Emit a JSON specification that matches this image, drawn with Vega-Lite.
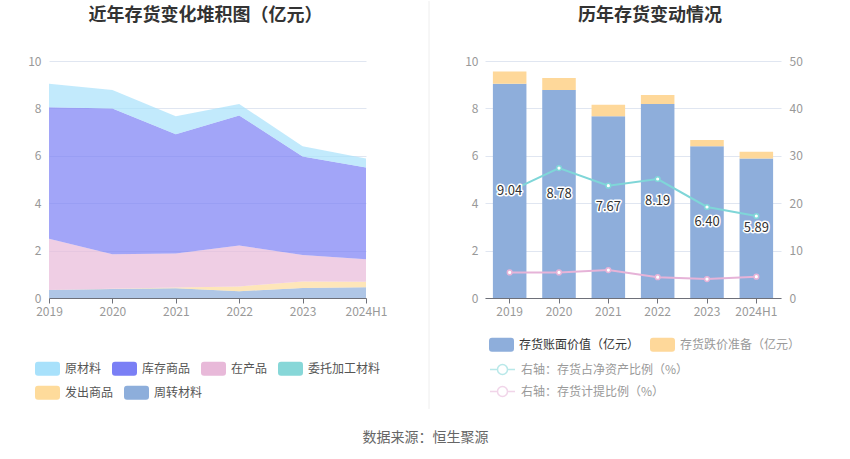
{
  "$schema": "https://vega.github.io/schema/vega-lite/v6.json",
  "autosize": {"type": "pad"},
  "padding": {"left": 27, "top": 0, "right": 0, "bottom": 0},
  "background": "white",
  "config": {
    "font": "Noto Sans CJK SC",
    "view": {"stroke": null},
    "axis": {"labelFont": "Noto Sans CJK SC"},
    "legend": {"labelFont": "Noto Sans CJK SC"}
  },
  "bounds": "flush",
  "spacing": 56,
  "resolve": {"scale": {"x": "independent", "y": "independent", "color": "independent", "stroke": "independent", "fill": "independent"}},
  "hconcat": [
    {
      "width": 317,
      "height": 237,
      "title": {"text": "近年存货变化堆积图（亿元）", "fontSize": 18, "fontWeight": "bold", "color": "#333333", "anchor": "middle", "dx": -2, "offset": 30},
      "resolve": {"scale": {"fill": "independent"}, "legend": {"fill": "independent"}},
      "layer": [
        {
          "data": {"values": [
            {"year": "2019", "series": "周转材料", "value": 0.34, "k": 1},
            {"year": "2020", "series": "周转材料", "value": 0.38, "k": 1},
            {"year": "2021", "series": "周转材料", "value": 0.41, "k": 1},
            {"year": "2022", "series": "周转材料", "value": 0.29, "k": 1},
            {"year": "2023", "series": "周转材料", "value": 0.42, "k": 1},
            {"year": "2024H1", "series": "周转材料", "value": 0.45, "k": 1},
            {"year": "2019", "series": "发出商品", "value": 0.0, "k": 2},
            {"year": "2020", "series": "发出商品", "value": 0.01, "k": 2},
            {"year": "2021", "series": "发出商品", "value": 0.03, "k": 2},
            {"year": "2022", "series": "发出商品", "value": 0.2, "k": 2},
            {"year": "2023", "series": "发出商品", "value": 0.28, "k": 2},
            {"year": "2024H1", "series": "发出商品", "value": 0.24, "k": 2},
            {"year": "2019", "series": "在产品", "value": 2.16, "k": 3},
            {"year": "2020", "series": "在产品", "value": 1.46, "k": 3},
            {"year": "2021", "series": "在产品", "value": 1.44, "k": 3},
            {"year": "2022", "series": "在产品", "value": 1.73, "k": 3},
            {"year": "2023", "series": "在产品", "value": 1.11, "k": 3},
            {"year": "2024H1", "series": "在产品", "value": 0.94, "k": 3},
            {"year": "2019", "series": "委托加工材料", "value": 0.0, "k": 4},
            {"year": "2020", "series": "委托加工材料", "value": 0.0, "k": 4},
            {"year": "2021", "series": "委托加工材料", "value": 0.0, "k": 4},
            {"year": "2022", "series": "委托加工材料", "value": 0.0, "k": 4},
            {"year": "2023", "series": "委托加工材料", "value": 0.0, "k": 4},
            {"year": "2024H1", "series": "委托加工材料", "value": 0.0, "k": 4},
            {"year": "2019", "series": "库存商品", "value": 5.55, "k": 5},
            {"year": "2020", "series": "库存商品", "value": 6.15, "k": 5},
            {"year": "2021", "series": "库存商品", "value": 5.03, "k": 5},
            {"year": "2022", "series": "库存商品", "value": 5.48, "k": 5},
            {"year": "2023", "series": "库存商品", "value": 4.16, "k": 5},
            {"year": "2024H1", "series": "库存商品", "value": 3.88, "k": 5},
            {"year": "2019", "series": "原材料", "value": 0.99, "k": 6},
            {"year": "2020", "series": "原材料", "value": 0.78, "k": 6},
            {"year": "2021", "series": "原材料", "value": 0.76, "k": 6},
            {"year": "2022", "series": "原材料", "value": 0.49, "k": 6},
            {"year": "2023", "series": "原材料", "value": 0.43, "k": 6},
            {"year": "2024H1", "series": "原材料", "value": 0.38, "k": 6}
          ]},
          "mark": {"type": "area", "opacity": 0.7},
          "encoding": {
            "x": {"field": "year", "type": "ordinal", "sort": null, "scale": {"type": "point", "padding": 0},
              "axis": {"title": null, "labelAngle": 0, "labelColor": "#999999", "labelFontSize": 12, "labelPadding": 3, "labelFlush": false, "labelOverlap": false, "domainColor": "#6e7079", "tickColor": "#6e7079", "tickSize": 5, "grid": false}},
            "y": {"field": "value", "type": "quantitative", "stack": "zero", "scale": {"domain": [0, 10]},
              "axis": {"title": null, "values": [0, 2, 4, 6, 8, 10], "labelColor": "#999999", "labelFontSize": 12, "labelPadding": 8, "domain": false, "ticks": false, "grid": true, "gridColor": "#e0e6f1"}},
            "fill": {"field": "series", "type": "nominal",
              "scale": {"domain": ["原材料", "库存商品", "在产品", "委托加工材料", "发出商品", "周转材料"], "range": ["#a8e1fb", "#7a7ff5", "#e8b9d9", "#87d7d8", "#fedb9b", "#8daedb"]},
              "legend": {"title": null, "orient": "none", "legendX": -14, "legendY": 295, "direction": "horizontal", "columns": 4,
                "values": ["原材料", "库存商品", "在产品", "委托加工材料"],
                "symbolType": "M-0.76,-0.56L0.76,-0.56Q1,-0.56,1,-0.32L1,0.32Q1,0.56,0.76,0.56L-0.76,0.56Q-1,0.56,-1,0.32L-1,-0.32Q-1,-0.56,-0.76,-0.56Z",
                "symbolSize": 625, "symbolStrokeWidth": 0, "symbolOpacity": 1, "labelFontSize": 12, "labelColor": "#555555", "labelOffset": 5, "columnPadding": 10}},
            "order": {"field": "k", "type": "quantitative"}
          }
        },
        {
          "data": {"values": [
            {"year": "2019", "leg": "发出商品", "v": 0},
            {"year": "2024H1", "leg": "发出商品", "v": 0},
            {"year": "2019", "leg": "周转材料", "v": 0},
            {"year": "2024H1", "leg": "周转材料", "v": 0}
          ]},
          "mark": {"type": "area", "opacity": 0.7},
          "encoding": {
            "x": {"field": "year", "type": "ordinal", "sort": null},
            "y": {"field": "v", "type": "quantitative", "stack": null},
            "fill": {"field": "leg", "type": "nominal",
              "scale": {"domain": ["发出商品", "周转材料"], "range": ["#fedb9b", "#8daedb"]},
              "legend": {"title": null, "orient": "none", "legendX": -14, "legendY": 319, "direction": "horizontal", "columns": 2,
                "symbolType": "M-0.76,-0.56L0.76,-0.56Q1,-0.56,1,-0.32L1,0.32Q1,0.56,0.76,0.56L-0.76,0.56Q-1,0.56,-1,0.32L-1,-0.32Q-1,-0.56,-0.76,-0.56Z",
                "symbolSize": 625, "symbolStrokeWidth": 0, "symbolOpacity": 1, "labelFontSize": 12, "labelColor": "#555555", "labelOffset": 5, "columnPadding": 10}}
          }
        }
      ]
    },
    {
      "width": 7,
      "height": 237,
      "title": {"text": "数据来源：恒生聚源", "orient": "bottom", "anchor": "middle", "fontSize": 14, "fontWeight": "normal", "color": "#666666", "offset": 22},
      "data": {"values": [{"p": 1, "top": 12.53, "bottom": -4.68}]},
      "mark": {"type": "rule", "color": "#eeeeee", "strokeWidth": 1, "clip": false},
      "encoding": {
        "x": {"field": "p", "type": "quantitative", "scale": {"domain": [0, 1]}, "axis": null},
        "y": {"field": "top", "type": "quantitative", "scale": {"domain": [0, 10]}, "axis": null},
        "y2": {"field": "bottom"}
      }
    },
    {
      "width": 296,
      "height": 237,
      "title": {"text": "历年存货变动情况", "fontSize": 18, "fontWeight": "bold", "color": "#333333", "anchor": "middle", "dx": 17, "offset": 30},
      "data": {"values": [
        {"year": "2019", "book": 9.04, "prov": 0.52, "rn": 22.5, "rp": 5.4},
        {"year": "2020", "book": 8.78, "prov": 0.5, "rn": 27.4, "rp": 5.4},
        {"year": "2021", "book": 7.67, "prov": 0.48, "rn": 23.7, "rp": 5.9},
        {"year": "2022", "book": 8.19, "prov": 0.38, "rn": 25.1, "rp": 4.4},
        {"year": "2023", "book": 6.4, "prov": 0.27, "rn": 19.2, "rp": 4.0},
        {"year": "2024H1", "book": 5.89, "prov": 0.28, "rn": 17.3, "rp": 4.5}
      ]},
      "resolve": {"scale": {"y": "independent"}},
      "layer": [
        {
          "transform": [{"fold": ["book", "prov"], "as": ["item", "amount"]}],
          "mark": {"type": "bar"},
          "encoding": {
            "x": {"field": "year", "type": "ordinal", "sort": null, "scale": {"paddingInner": 0.32, "paddingOuter": 0.16},
              "axis": {"title": null, "labelAngle": 0, "labelColor": "#999999", "labelFontSize": 12, "labelPadding": 3, "domainColor": "#6e7079", "tickColor": "#6e7079", "tickSize": 5, "grid": false}},
            "y": {"field": "amount", "type": "quantitative", "stack": "zero", "scale": {"domain": [0, 10]},
              "axis": {"orient": "left", "title": null, "values": [0, 2, 4, 6, 8, 10], "labelColor": "#999999", "labelFontSize": 12, "labelPadding": 7, "domain": false, "ticks": false, "grid": true, "gridColor": "#e0e6f1"}},
            "color": {"field": "item", "type": "nominal",
              "scale": {"domain": ["book", "prov"], "range": ["#8eaedb", "#fed89a"]},
              "legend": {"title": null, "orient": "none", "legendX": 4, "legendY": 271, "direction": "horizontal", "columns": 2,
                "labelExpr": "datum.value === 'book' ? '存货账面价值（亿元）' : '存货跌价准备（亿元）'",
                "symbolType": "M-0.76,-0.56L0.76,-0.56Q1,-0.56,1,-0.32L1,0.32Q1,0.56,0.76,0.56L-0.76,0.56Q-1,0.56,-1,0.32L-1,-0.32Q-1,-0.56,-0.76,-0.56Z",
                "symbolSize": 625, "symbolStrokeWidth": 0, "labelFontSize": 12, "labelColor": "#333333", "labelOffset": 5, "columnPadding": 10, "labelLimit": 300,
                "encode": {
                  "symbols": {"update": {"fill": {"signal": "datum.value === 'prov' ? '#fde9c9' : '#8eaedb'"}}},
                  "labels": {"update": {"fill": {"signal": "datum.value === 'prov' ? '#999999' : '#333333'"}}}
                }}},
            "order": {"field": "item", "type": "ordinal"}
          }
        },
        {
          "transform": [{"fold": ["rn", "rp"], "as": ["rk", "rv"]}],
          "encoding": {
            "x": {"field": "year", "type": "ordinal", "sort": null},
            "y": {"field": "rv", "type": "quantitative", "scale": {"domain": [0, 50]},
              "axis": {"orient": "right", "title": null, "values": [0, 10, 20, 30, 40, 50], "labelColor": "#999999", "labelFontSize": 12, "labelPadding": 8, "domain": false, "ticks": false, "grid": false}},
            "stroke": {"field": "rk", "type": "nominal",
              "scale": {"domain": ["rn", "rp"], "range": ["#7fd6d8", "#e6b3d8"]},
              "legend": {"title": null, "orient": "none", "legendX": 4, "legendY": 295, "direction": "vertical",
                "labelExpr": "datum.value === 'rn' ? '右轴：存货占净资产比例（%）' : '右轴：存货计提比例（%）'",
                "symbolType": "M-1,0L-0.4,0M0.4,0L1,0M0.4,0A0.4,0.4,0,1,1,-0.4,0A0.4,0.4,0,1,1,0.4,0Z",
                "symbolSize": 625, "symbolStrokeWidth": 1.5, "symbolFillColor": "white", "symbolOpacity": 0.55,
                "labelFontSize": 12, "labelColor": "#999999", "labelOffset": 5, "rowPadding": -1, "labelLimit": 300}}
          },
          "layer": [
            {"mark": {"type": "line", "strokeWidth": 2}},
            {"mark": {"type": "point", "shape": "circle", "filled": true, "fill": "white", "size": 22, "strokeWidth": 1.5, "opacity": 1}}
          ]
        },
        {
          "encoding": {
            "x": {"field": "year", "type": "ordinal", "sort": null},
            "y": {"field": "book", "type": "quantitative", "scale": {"domain": [0, 20]}, "axis": null},
            "text": {"field": "book", "type": "quantitative", "format": ".2f"}
          },
          "layer": [
            {"mark": {"type": "text", "fontSize": 13, "fill": "white", "stroke": "white", "strokeWidth": 3, "strokeJoin": "round", "baseline": "middle"}},
            {"mark": {"type": "text", "fontSize": 13, "fill": "#333333", "baseline": "middle"}}
          ]
        }
      ]
    }
  ]
}
